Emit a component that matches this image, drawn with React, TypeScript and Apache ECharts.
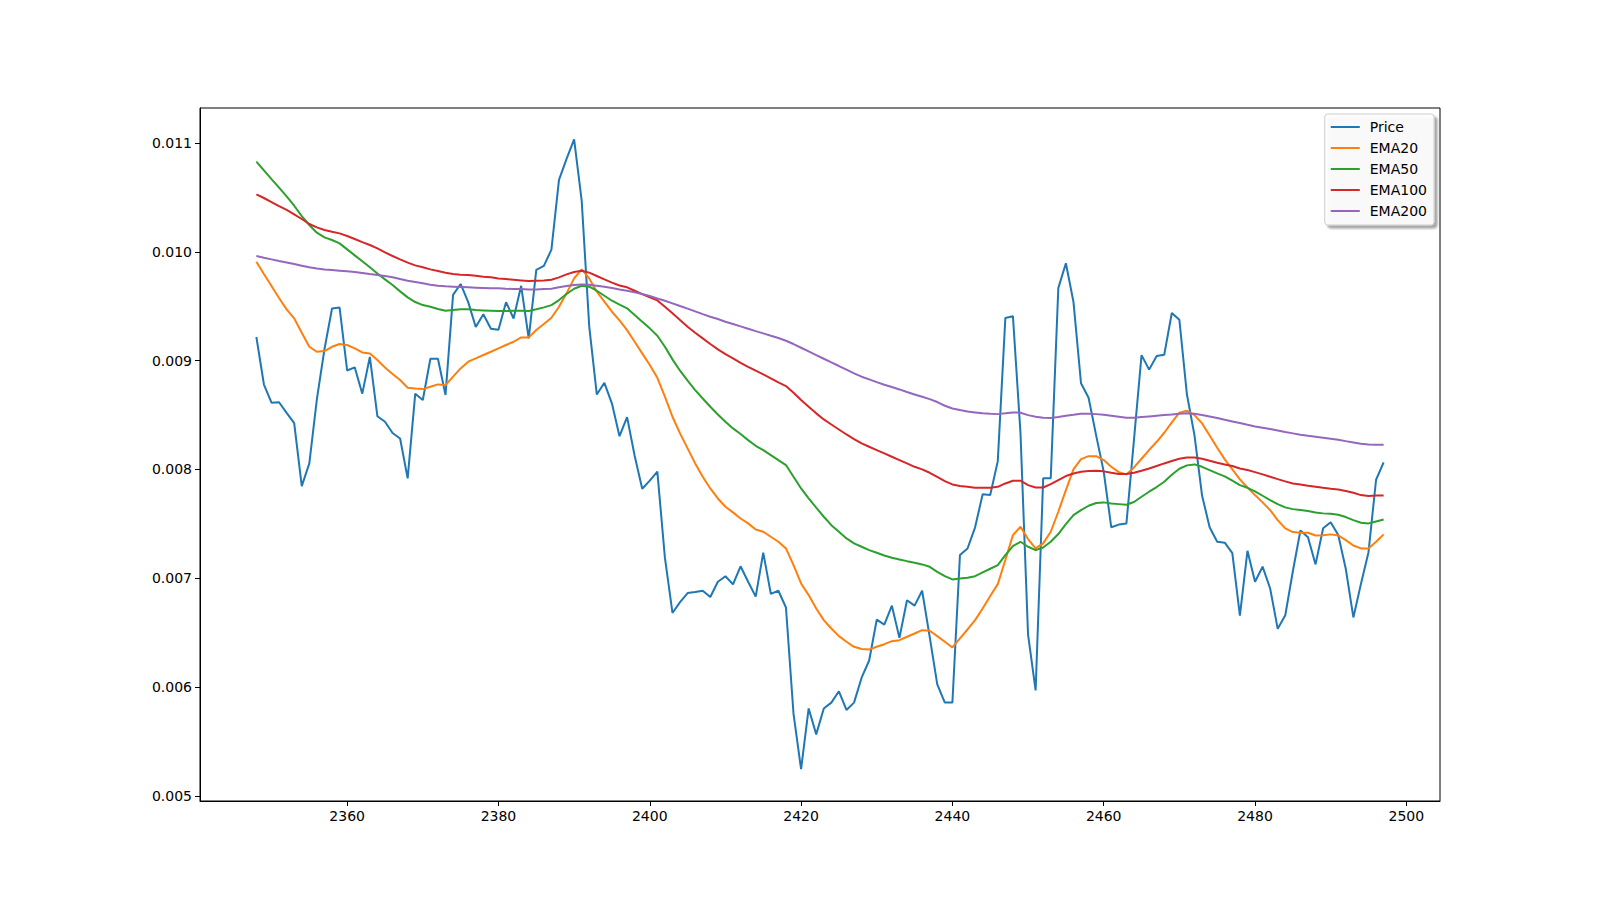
import React, { useEffect, useRef } from "react";
import * as echarts from "echarts";

const X = [
  2348, 2349, 2350, 2351, 2352, 2353, 2354, 2355, 2356, 2357, 2358, 2359, 2360, 2361, 2362, 2363, 2364, 2365, 2366, 2367,
  2368, 2369, 2370, 2371, 2372, 2373, 2374, 2375, 2376, 2377, 2378, 2379, 2380, 2381, 2382, 2383, 2384, 2385, 2386, 2387,
  2388, 2389, 2390, 2391, 2392, 2393, 2394, 2395, 2396, 2397, 2398, 2399, 2400, 2401, 2402, 2403, 2404, 2405, 2406, 2407,
  2408, 2409, 2410, 2411, 2412, 2413, 2414, 2415, 2416, 2417, 2418, 2419, 2420, 2421, 2422, 2423, 2424, 2425, 2426, 2427,
  2428, 2429, 2430, 2431, 2432, 2433, 2434, 2435, 2436, 2437, 2438, 2439, 2440, 2441, 2442, 2443, 2444, 2445, 2446, 2447,
  2448, 2449, 2450, 2451, 2452, 2453, 2454, 2455, 2456, 2457, 2458, 2459, 2460, 2461, 2462, 2463, 2464, 2465, 2466, 2467,
  2468, 2469, 2470, 2471, 2472, 2473, 2474, 2475, 2476, 2477, 2478, 2479, 2480, 2481, 2482, 2483, 2484, 2485, 2486, 2487,
  2488, 2489, 2490, 2491, 2492, 2493, 2494, 2495, 2496, 2497,
];

const PRICE = [
  0.009217, 0.00878, 0.008613, 0.008617, 0.00852, 0.008426, 0.007847, 0.008055, 0.008646, 0.009104,
  0.009479, 0.009487, 0.008909, 0.008938, 0.008696, 0.009033, 0.008488, 0.008438, 0.008334, 0.008284,
  0.007918, 0.008696, 0.008638, 0.009017, 0.009017, 0.008684, 0.009604, 0.009704, 0.009537, 0.009308,
  0.009425, 0.009292, 0.009283, 0.009537, 0.009387, 0.009687, 0.009204, 0.009833, 0.00987, 0.01002,
  0.010661, 0.010853, 0.011032, 0.01047, 0.009312, 0.008688, 0.008796, 0.008605, 0.008305, 0.00848,
  0.008126, 0.007822, 0.007897, 0.00798, 0.007189, 0.006681, 0.006781, 0.006864, 0.006873, 0.006885,
  0.006827, 0.006968, 0.007018, 0.006944, 0.00711, 0.006968, 0.006831, 0.007235, 0.006856, 0.006885,
  0.006731, 0.005753, 0.005245, 0.005803, 0.005565, 0.005803, 0.005857, 0.005961, 0.00579, 0.005857,
  0.006086, 0.006244, 0.006619, 0.006573, 0.006748, 0.006452, 0.006798, 0.006748, 0.006885, 0.006461,
  0.006024, 0.005857, 0.005857, 0.007214, 0.007273, 0.007468, 0.007772, 0.007764, 0.008076, 0.009392,
  0.009408, 0.008334, 0.006481, 0.005969, 0.007918, 0.007918, 0.009666, 0.009895, 0.009541, 0.008792,
  0.008659, 0.008313, 0.00798, 0.007468, 0.007493, 0.007502, 0.008272, 0.00905, 0.008917, 0.009042,
  0.009054, 0.009437, 0.009375, 0.008688, 0.008313, 0.00776, 0.007468, 0.007335, 0.007327, 0.007231,
  0.006656, 0.007252, 0.006968, 0.007106, 0.006906, 0.006535, 0.00666, 0.007064, 0.007439, 0.007377,
  0.007127, 0.00746, 0.007514, 0.007397, 0.007085, 0.00664, 0.006948, 0.007239, 0.007905, 0.008064,
];

const EMA20 = [
  0.009909, 0.009795, 0.009685, 0.009575, 0.009471, 0.009388, 0.009256, 0.009127, 0.009081, 0.009088,
  0.009127, 0.009152, 0.009143, 0.009112, 0.009075, 0.009066, 0.009005, 0.008937, 0.008876, 0.008821,
  0.008751, 0.008744, 0.008738, 0.00876, 0.008781, 0.008775, 0.008852, 0.008928, 0.00899, 0.00902,
  0.009051, 0.009081, 0.009112, 0.009143, 0.009173, 0.009213, 0.009213, 0.009281, 0.009336, 0.009394,
  0.009495, 0.009618, 0.009755, 0.009838, 0.009755, 0.009633, 0.009541, 0.009449, 0.00937, 0.00928,
  0.009173, 0.009066, 0.008959, 0.008842, 0.008668, 0.008484, 0.008331, 0.008193, 0.008055, 0.007932,
  0.007825, 0.007733, 0.007657, 0.007605, 0.007549, 0.007504, 0.007448, 0.007427, 0.007381, 0.007335,
  0.007274, 0.00712, 0.006952, 0.006845, 0.006722, 0.006615, 0.006538, 0.006468, 0.006416, 0.00637,
  0.006349, 0.006345, 0.00637, 0.006394, 0.006422, 0.006431, 0.006462, 0.006492, 0.006523, 0.006517,
  0.006468, 0.006416, 0.006364, 0.006447, 0.006529, 0.006615, 0.006722, 0.006836, 0.006946, 0.007167,
  0.007396, 0.007473, 0.00736, 0.007274, 0.00732, 0.007427, 0.007611, 0.00781, 0.008, 0.008095,
  0.008122, 0.008122, 0.008086, 0.008025, 0.007975, 0.007954, 0.008018, 0.008098, 0.008178, 0.008254,
  0.008337, 0.008432, 0.008521, 0.008539, 0.008499, 0.008423, 0.008312, 0.008199, 0.008092, 0.008,
  0.007908, 0.007834, 0.007764, 0.007697, 0.007626, 0.007534, 0.007458, 0.007424, 0.007418, 0.007418,
  0.007393, 0.007396, 0.007403, 0.007393, 0.00735, 0.007301, 0.007274, 0.007274, 0.007335, 0.007403,
];

const EMA50 = [
  0.010828, 0.010748, 0.010668, 0.010589, 0.010509, 0.010423, 0.010328, 0.010246, 0.010175, 0.010132,
  0.010108, 0.010077, 0.010022, 0.009967, 0.009912, 0.009857, 0.009801, 0.009746, 0.009694, 0.009636,
  0.009581, 0.009538, 0.00951, 0.009495, 0.009474, 0.009458, 0.009464, 0.009471, 0.009471, 0.009464,
  0.009461, 0.009458, 0.009455, 0.009455, 0.009458, 0.009458, 0.009455, 0.009471, 0.009489, 0.00951,
  0.009556, 0.009612, 0.00966, 0.009688, 0.009679, 0.009642, 0.009596, 0.00955, 0.009515, 0.00948,
  0.009418, 0.009357, 0.009296, 0.009228, 0.009127, 0.009011, 0.008907, 0.008815, 0.008729, 0.008652,
  0.008576, 0.008505, 0.008438, 0.008377, 0.008325, 0.008269, 0.008217, 0.008177, 0.008132, 0.008086,
  0.00804, 0.007932, 0.007825, 0.007733, 0.007648, 0.007565, 0.007488, 0.007427, 0.007366, 0.00732,
  0.007289, 0.007258, 0.007234, 0.007209, 0.007188, 0.007173, 0.007157, 0.007142, 0.007127, 0.007105,
  0.007059, 0.007019, 0.006989, 0.006998, 0.007004, 0.007019, 0.007053, 0.007087, 0.007121, 0.007212,
  0.007295, 0.007335, 0.007289, 0.007258, 0.007283, 0.007335, 0.007406, 0.007497, 0.00758, 0.007626,
  0.007666, 0.007691, 0.007697, 0.007687, 0.007681, 0.007675, 0.0077, 0.007749, 0.007795, 0.007838,
  0.007887, 0.007951, 0.008006, 0.008037, 0.008046, 0.008024, 0.007994, 0.007963, 0.007936, 0.007896,
  0.007856, 0.007831, 0.007798, 0.007758, 0.007718, 0.007681, 0.007651, 0.007635, 0.007626, 0.007617,
  0.007605, 0.007596, 0.007592, 0.007583, 0.007562, 0.007534, 0.00751, 0.007504, 0.007522, 0.00754,
];

const EMA100 = [
  0.010527, 0.010494, 0.010457, 0.01042, 0.010384, 0.010344, 0.010301, 0.010255, 0.010224, 0.0102,
  0.010184, 0.010169, 0.010145, 0.010117, 0.010089, 0.010062, 0.010031, 0.009994, 0.009961, 0.00993,
  0.0099, 0.009875, 0.009857, 0.009838, 0.009823, 0.009808, 0.009795, 0.009789, 0.009786, 0.00978,
  0.009771, 0.009765, 0.009755, 0.009749, 0.009743, 0.009737, 0.009731, 0.009734, 0.009737, 0.009743,
  0.009765, 0.009792, 0.009814, 0.009826, 0.009808, 0.009777, 0.009746, 0.009716, 0.00969, 0.009673,
  0.009642, 0.009611, 0.009581, 0.009553, 0.009495, 0.009434, 0.009372, 0.009311, 0.009256, 0.009204,
  0.009152, 0.009103, 0.00906, 0.00902, 0.00898, 0.008943, 0.008907, 0.008873, 0.008836, 0.008799,
  0.008766, 0.008704, 0.008637, 0.008576, 0.008515, 0.008459, 0.008413, 0.008367, 0.008321, 0.008279,
  0.008239, 0.008208, 0.008177, 0.008147, 0.008116, 0.008086, 0.008055, 0.008024, 0.008, 0.007969,
  0.007932, 0.007893, 0.007862, 0.007847, 0.00784, 0.007831, 0.007831, 0.007831, 0.00784, 0.007871,
  0.007896, 0.007896, 0.007856, 0.007834, 0.007834, 0.007865, 0.007902, 0.007939, 0.007963, 0.007978,
  0.007985, 0.007988, 0.007982, 0.007969, 0.007957, 0.007957, 0.007969, 0.007988, 0.008009, 0.008031,
  0.008055, 0.008077, 0.008098, 0.00811, 0.00811, 0.008098, 0.00808, 0.008061, 0.008046, 0.008031,
  0.008009, 0.007994, 0.007975, 0.007954, 0.007933, 0.007911, 0.00789, 0.007871, 0.007862, 0.00785,
  0.007841, 0.007831, 0.007822, 0.007816, 0.007801, 0.007785, 0.007764, 0.007755, 0.007761, 0.007761,
];

const EMA200 = [
  0.009961, 0.009945, 0.00993, 0.009915, 0.009902, 0.009887, 0.009872, 0.009857, 0.009847, 0.009838,
  0.009832, 0.009826, 0.00982, 0.009814, 0.009805, 0.009795, 0.009786, 0.009777, 0.009765, 0.009749,
  0.009734, 0.009722, 0.00971, 0.009697, 0.009688, 0.009682, 0.009679, 0.009676, 0.009673, 0.00967,
  0.009667, 0.009664, 0.009664, 0.00966, 0.009657, 0.009657, 0.009654, 0.009654, 0.009657, 0.00966,
  0.009673, 0.009685, 0.009694, 0.0097, 0.009697, 0.009688, 0.009679, 0.009667, 0.009654, 0.009642,
  0.009627, 0.009611, 0.009593, 0.009571, 0.00955, 0.009526, 0.009501, 0.009477, 0.009452, 0.009427,
  0.009403, 0.009382, 0.009357, 0.009336, 0.009314, 0.009293, 0.009271, 0.00925, 0.009228, 0.009207,
  0.009182, 0.009152, 0.009118, 0.009084, 0.009051, 0.009017, 0.008983, 0.00895, 0.008916, 0.008882,
  0.008852, 0.008827, 0.008802, 0.008778, 0.008757, 0.008735, 0.008711, 0.008689, 0.008668, 0.008646,
  0.008619, 0.008585, 0.00856, 0.008545, 0.008533, 0.008524, 0.008515, 0.008511, 0.008508, 0.008515,
  0.008524, 0.008521, 0.008499, 0.008484, 0.008475, 0.008472, 0.008481, 0.008493, 0.008502, 0.008512,
  0.008512, 0.008508, 0.008502, 0.008493, 0.008484, 0.008475, 0.008475, 0.008481, 0.008487, 0.008493,
  0.008499, 0.008505, 0.008512, 0.008515, 0.008512, 0.008499, 0.008487, 0.008472, 0.008456, 0.008441,
  0.008426, 0.00841, 0.008395, 0.008383, 0.008371, 0.008358, 0.008343, 0.008331, 0.008319, 0.008309,
  0.0083, 0.008291, 0.008282, 0.008273, 0.00826, 0.008248, 0.008236, 0.00823, 0.008227, 0.008227,
];

const SERIES_NAMES = ["Price", "EMA20", "EMA50", "EMA100", "EMA200"];
const SERIES_VALUES = [PRICE, EMA20, EMA50, EMA100, EMA200];
const COLORS = ["#1f77b4", "#ff7f0e", "#2ca02c", "#d62728", "#9467bd"];
const X_TICKS = [2360, 2380, 2400, 2420, 2440, 2460, 2480, 2500];
const Y_TICKS = [0.005, 0.006, 0.007, 0.008, 0.009, 0.01, 0.011];
const X_MIN = 2340.55;
const X_MAX = 2504.45;
const Y_MIN = 0.004953;
const Y_MAX = 0.011321;

const FONT = "DejaVu Sans";

export default function App() {
  const ref = useRef<HTMLDivElement>(null);

  useEffect(() => {
    if (!ref.current) return;
    const chart = echarts.init(ref.current, null, { renderer: "svg" });

    const series = SERIES_VALUES.map((vals, k) => ({
      name: SERIES_NAMES[k],
      type: "line",
      data: X.map((x, i) => [x, vals[i]]),
      symbol: "none",
      showSymbol: false,
      color: COLORS[k],
      lineStyle: { width: 2, color: COLORS[k] },
      itemStyle: { color: COLORS[k] },
      emphasis: { disabled: true },
    }));

    chart.setOption({
      animation: false,
      backgroundColor: "#ffffff",
      grid: {
        left: 200,
        right: 160,
        top: 108,
        bottom: 99,
        show: true,
        borderColor: "#000000",
        borderWidth: 1,
        backgroundColor: "transparent",
      },
      xAxis: {
        type: "value",
        min: X_MIN,
        max: X_MAX,
        splitLine: { show: false },
        axisLine: { show: true, onZero: false, lineStyle: { color: "#000000", width: 1 } },
        axisTick: {
          show: true,
          length: 5,
          customValues: X_TICKS,
          lineStyle: { color: "#000000", width: 1 },
        },
        axisLabel: {
          customValues: X_TICKS,
          color: "#000000",
          fontFamily: FONT,
          fontSize: 14,
          margin: 8,
          formatter: (v: number) => String(Math.round(v)),
        },
      },
      yAxis: {
        type: "value",
        min: Y_MIN,
        max: Y_MAX,
        splitLine: { show: false },
        axisLine: { show: true, onZero: false, lineStyle: { color: "#000000", width: 1 } },
        axisTick: {
          show: true,
          length: 5,
          customValues: Y_TICKS,
          lineStyle: { color: "#000000", width: 1 },
        },
        axisLabel: {
          customValues: Y_TICKS,
          color: "#000000",
          fontFamily: FONT,
          fontSize: 14,
          margin: 8,
          formatter: (v: number) => v.toFixed(3),
        },
      },
      legend: {
        data: SERIES_NAMES.map((n) => ({ name: n, icon: "rect" })),
        orient: "vertical",
        right: 166,
        top: 114,
        itemWidth: 29,
        itemHeight: 2,
        itemGap: 7,
        padding: [6, 7, 7, 6],
        backgroundColor: "rgba(255,255,255,0.85)",
        borderColor: "#cccccc",
        borderWidth: 1,
        borderRadius: 3,
        shadowColor: "rgba(0,0,0,0.4)",
        shadowBlur: 2,
        shadowOffsetX: 3,
        shadowOffsetY: 3,
        itemStyle: { borderWidth: 0 },
        textStyle: {
          fontFamily: FONT,
          fontSize: 14,
          color: "#000000",
          padding: [0, 0, 0, 5],
        },
        selectedMode: false,
      },
      series,
    });

    return () => {
      chart.dispose();
    };
  }, []);

  return (
    <div
      ref={ref}
      style={{ position: "fixed", left: 0, top: 0, width: 1600, height: 900, background: "#ffffff" }}
    />
  );
}
